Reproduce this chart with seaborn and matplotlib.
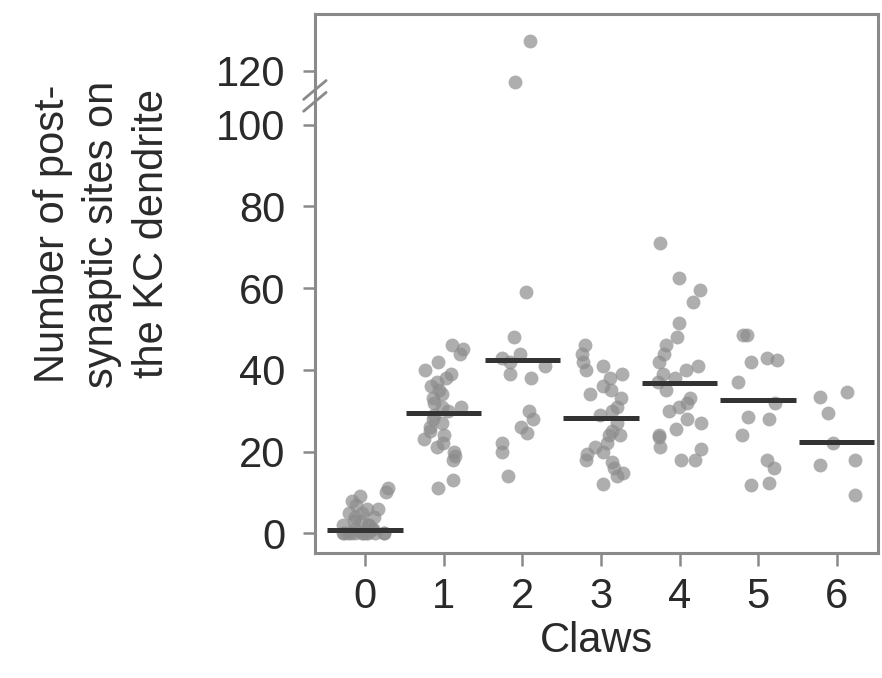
import matplotlib
matplotlib.use('Agg')
import matplotlib.pyplot as plt
import numpy as np
import pandas as pd
import seaborn as sns

# values (post-synaptic sites per KC, grouped by claw number)
claws0 = [0, 0, 0, 0, 0, 0, 0, 0, 0, 0, 0, 0, 1, 1, 1, 2, 2, 2, 3, 3, 4, 4, 5, 5, 6, 6, 7, 8, 9, 10, 11]
claws1 = [46, 45, 44, 42, 40, 39, 38, 37, 36, 35, 34, 33, 32, 31, 31, 30, 29, 28, 27, 26,
          25, 24, 23, 22, 21, 20, 19, 18, 13, 11]
claws2 = [131, 116, 59, 48, 44, 43, 42, 41, 39, 38, 30, 28, 26, 24.5, 22, 20, 14]
claws3 = [46, 44, 42, 41, 40, 39, 38, 36, 35, 34, 33, 31, 30, 29, 27, 25, 24, 24, 22, 21,
          20, 19.5, 18, 17.5, 16, 14.7, 14, 12]
claws4 = [71, 62.5, 59.5, 56.5, 51.5, 48, 46, 44, 42, 41, 40, 39, 38, 37, 35, 33, 32, 31,
          30, 28, 27, 25.5, 24, 23.5, 21, 20.5, 18, 18]
claws5 = [48.5, 48.5, 43, 42.5, 42, 37, 32, 28.5, 28, 24, 18, 16, 12.3, 11.8]
claws6 = [34.6, 33.3, 29.4, 22, 18, 16.7, 9.3]
groups = ['0', '1', '2', '3', '4', '5', '6']
means = [0.8, 29.4, 42.4, 28.2, 36.8, 32.6, 22.3]
yticks = [0, 20, 40, 60, 80, 100, 120]

df = pd.DataFrame({
    'claws': sum([[g] * len(v) for g, v in zip(groups, [claws0, claws1, claws2, claws3,
                                                       claws4, claws5, claws6])], []),
    'sites': claws0 + claws1 + claws2 + claws3 + claws4 + claws5 + claws6,
})

sns.set_style('ticks')
plt.rcParams['font.family'] = ['Liberation Sans', 'DejaVu Sans']

BREAK, SQUEEZE = 100, 0.66


def fwd(y):
    y = np.asarray(y, dtype=float)
    return np.where(y <= BREAK, y, BREAK + (y - BREAK) * SQUEEZE)


def inv(y):
    y = np.asarray(y, dtype=float)
    return np.where(y <= BREAK, y, BREAK + (y - BREAK) / SQUEEZE)


fig = plt.figure(figsize=(8.82, 6.78), dpi=100)
ax = fig.add_axes([0.357, 0.184, 0.638, 0.795])

np.random.seed(3)
sns.stripplot(data=df, x='claws', y='sites', order=groups, jitter=0.3, size=10,
              color='#8c8c8c', alpha=0.7, linewidth=0, ax=ax)

pos = np.arange(len(groups))
ax.hlines(means, pos - 0.48, pos + 0.48, color='#333333', linewidth=3.6, zorder=5)

ax.set_yscale('function', functions=(fwd, inv))
ax.set_ylim(-4.9, 141)
ax.set_xlim(-0.64, 6.52)
ax.set_yticks(yticks)
ax.set_yticklabels([str(t) for t in yticks])
ax.yaxis.set_minor_locator(matplotlib.ticker.NullLocator())

grey = '#8a8a8a'
for s in ax.spines.values():
    s.set_visible(True)
    s.set_color(grey)
    s.set_linewidth(2.2)
ax.tick_params(axis='both', which='major', bottom=True, left=True, top=False, right=False,
               direction='out', length=9, width=1.8, color=grey, labelsize=30,
               labelcolor='#2a2a2a')
ax.tick_params(axis='y', pad=12)
ax.tick_params(axis='x', pad=8)

ax.set_xlabel('Claws', fontsize=30, color='#2a2a2a', labelpad=3)
ax.set_ylabel('')
fig.text(0.116, 0.655, 'Number of post-\nsynaptic sites on\nthe KC dendrite',
         rotation=90, ha='center', va='center', multialignment='center',
         fontsize=30, color='#2a2a2a', linespacing=1.3)

# axis break marks between 100 and 120
for dy in (0.0, 0.022):
    ax.plot([-0.02, 0.02], [0.82 + dy, 0.855 + dy], transform=ax.transAxes,
            color=grey, linewidth=2, clip_on=False)

fig.savefig('out.png', dpi=100)
